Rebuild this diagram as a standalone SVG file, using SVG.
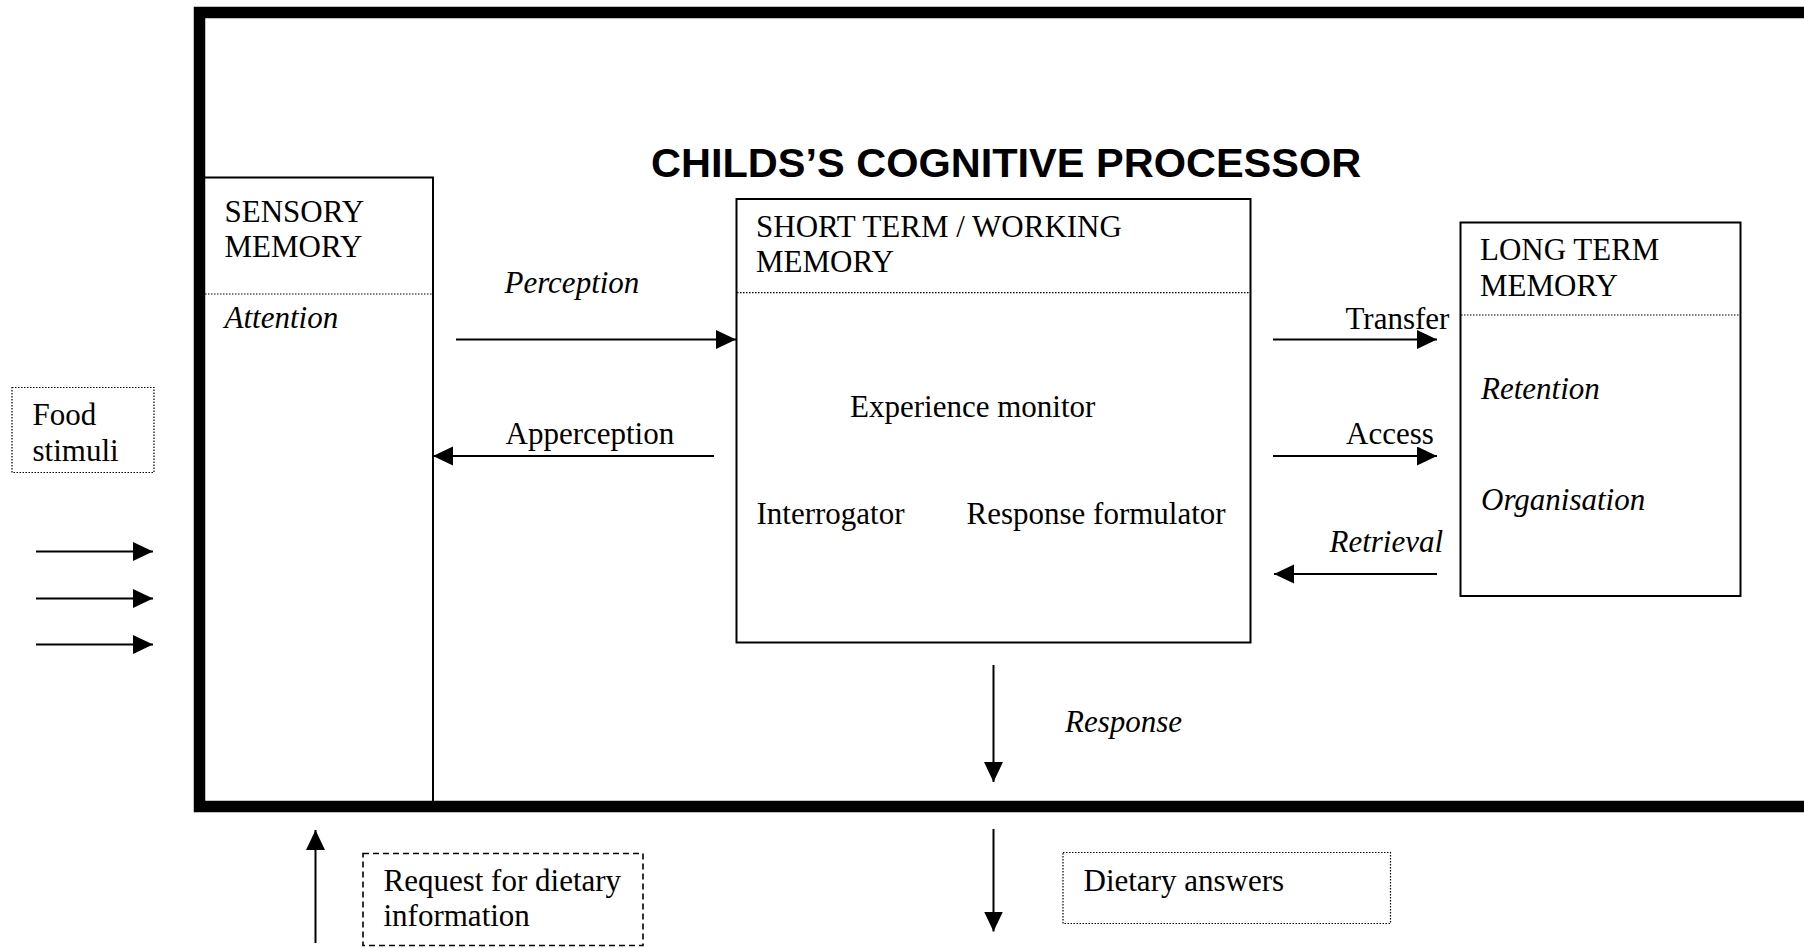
<svg xmlns="http://www.w3.org/2000/svg" width="1804" height="948" viewBox="0 0 1804 948">
<style>
.t{font-family:"Liberation Serif","Times New Roman",serif;font-size:31px;fill:#000}
.i{font-style:italic}
.ttl{font-family:"Liberation Sans",Arial,sans-serif;font-weight:bold;font-size:41.5px;fill:#000}
.box{fill:none;stroke:#000;stroke-width:2}
.dot{fill:none;stroke:#000;stroke-width:1.2;stroke-dasharray:1.5 1.5}
.dash{fill:none;stroke:#000;stroke-width:1.6;stroke-dasharray:6 4}
.c{fill:none;stroke:#000;stroke-width:2;marker-end:url(#ah)}
</style>
<defs>
<marker id="ah" markerUnits="userSpaceOnUse" markerWidth="22" markerHeight="20" refX="20" refY="9.5" orient="auto">
<path d="M0,0 L20,9.5 L0,19 z" fill="#000"/>
</marker>
</defs>
<rect width="1804" height="948" fill="#fff"/>
<g id="processor">
<rect x="199.5" y="12.5" width="1700" height="794" fill="none" stroke="#000" stroke-width="11.5"/>
<text class="ttl" x="651" y="176.5">CHILDS’S COGNITIVE PROCESSOR</text>
</g>
<g id="sensory">
<path class="box" d="M205,177.5 H433 V801"/>
<line class="dot" x1="205" y1="294" x2="433" y2="294"/>
<text class="t" x="224.5" y="221.5">SENSORY</text>
<text class="t" x="224.5" y="256.5">MEMORY</text>
<text class="t i" x="224.5" y="328">Attention</text>
</g>
<g id="short-term">
<rect class="box" x="736.5" y="199" width="514" height="443.5"/>
<line class="dot" x1="737" y1="292.7" x2="1250" y2="292.7"/>
<text class="t" x="756" y="236.5">SHORT TERM / WORKING</text>
<text class="t" x="756" y="271.5">MEMORY</text>
<text class="t" x="850" y="416.5">Experience monitor</text>
<text class="t" x="756.5" y="524">Interrogator</text>
<text class="t" x="966.5" y="524">Response formulator</text>
</g>
<g id="long-term">
<rect class="box" x="1460.5" y="222.5" width="280" height="373.5"/>
<line class="dot" x1="1461" y1="315" x2="1740" y2="315"/>
<text class="t" x="1480" y="260">LONG TERM</text>
<text class="t" x="1480" y="295.5">MEMORY</text>
<text class="t i" x="1481" y="399">Retention</text>
<text class="t i" x="1481" y="510">Organisation</text>
</g>
<g id="food-stimuli">
<rect class="dot" x="12" y="387.5" width="142" height="85"/>
<text class="t" x="32.5" y="425">Food</text>
<text class="t" x="32.5" y="460.5">stimuli</text>
</g>
<g id="request">
<rect class="dash" x="363" y="853.5" width="280" height="92"/>
<text class="t" x="383.5" y="890.5">Request for dietary</text>
<text class="t" x="383.5" y="925.5">information</text>
</g>
<g id="dietary-answers">
<rect class="dot" x="1063" y="852.5" width="327.5" height="71"/>
<text class="t" x="1083.5" y="891">Dietary answers</text>
</g>
<g id="connectors">
<line class="c" x1="456" y1="339.5" x2="736" y2="339.5"/>
<text class="t i" x="504.5" y="293">Perception</text>
<line class="c" x1="714" y1="456" x2="433" y2="456"/>
<text class="t" x="505.5" y="444">Apperception</text>
<line class="c" x1="1273" y1="339.5" x2="1437" y2="339.5"/>
<text class="t" x="1345.5" y="328.5">Transfer</text>
<line class="c" x1="1273" y1="456" x2="1437" y2="456"/>
<text class="t" x="1346" y="444">Access</text>
<line class="c" x1="1437" y1="574" x2="1274" y2="574"/>
<text class="t i" x="1329.5" y="551.5">Retrieval</text>
<line class="c" x1="993.5" y1="665" x2="993.5" y2="782"/>
<text class="t i" x="1065" y="731.5">Response</text>
<line class="c" x1="993.5" y1="829" x2="993.5" y2="931.5"/>
<line class="c" x1="315.5" y1="943" x2="315.5" y2="830"/>
<line class="c" x1="36" y1="551.5" x2="153" y2="551.5"/>
<line class="c" x1="36" y1="598.5" x2="153" y2="598.5"/>
<line class="c" x1="36" y1="644.5" x2="153" y2="644.5"/>
</g>
</svg>
